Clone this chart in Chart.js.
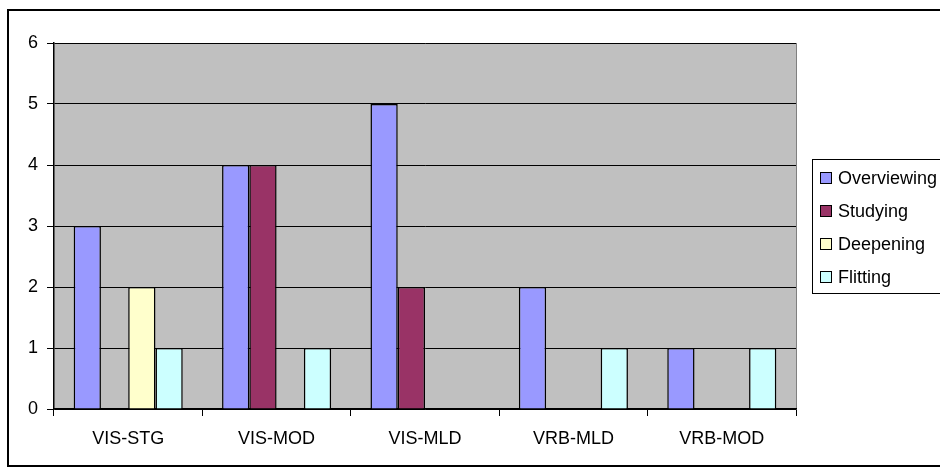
<!DOCTYPE html>
<html>
<head>
<meta charset="utf-8">
<script src="https://cdn.jsdelivr.net/npm/chart.js@4/dist/chart.umd.min.js"></script>
<style>
html,body{margin:0;padding:0;background:#fff;}
#wrap{width:940px;height:471px;position:relative;}
</style>
</head>
<body>
<div id="wrap"><canvas id="c" width="940" height="471"></canvas></div>
<script>
const categories = ['VIS-STG', 'VIS-MOD', 'VIS-MLD', 'VRB-MLD', 'VRB-MOD'];
const seriesNames = ['Overviewing', 'Studying', 'Deepening', 'Flitting'];
const overviewing = [3, 4, 5, 2, 1];
const studying = [0, 4, 2, 0, 0];
const deepening = [2, 0, 0, 0, 0];
const flitting = [1, 1, 0, 1, 1];
const yTicks = [0, 1, 2, 3, 4, 5, 6];

const colors = ['#9999FF', '#993366', '#FFFFCC', '#CCFFFF'];
const seriesValues = [overviewing, studying, deepening, flitting];

const FONT = '"Liberation Sans", Arial, sans-serif';

const bgPlugin = {
  id: 'bg',
  beforeDraw(chart) {
    const ctx = chart.ctx;
    const a = chart.chartArea;
    ctx.save();
    ctx.fillStyle = '#fff';
    ctx.fillRect(0, 0, chart.width, chart.height);
    ctx.fillStyle = '#C0C0C0';
    ctx.fillRect(a.left, a.top, a.right - a.left, a.bottom - a.top);
    ctx.strokeStyle = '#808080';
    ctx.lineWidth = 1;
    ctx.beginPath();
    ctx.moveTo(a.right + 0.5, a.top);
    ctx.lineTo(a.right + 0.5, a.bottom);
    ctx.stroke();
    ctx.restore();
  },
  afterDraw(chart) {
    const ctx = chart.ctx;
    ctx.save();
    // outer border
    ctx.strokeStyle = '#000';
    ctx.lineWidth = 2;
    ctx.strokeRect(8, 10, 940, 456);
    // legend
    const lx = 812.5, ly = 159.5, lw = 140, lh = 134;
    ctx.fillStyle = '#fff';
    ctx.fillRect(lx, ly, lw, lh);
    ctx.lineWidth = 1;
    ctx.strokeRect(lx, ly, lw, lh);
    ctx.font = '18px ' + FONT;
    ctx.textBaseline = 'middle';
    ctx.textAlign = 'left';
    chart.data.datasets.forEach((ds, i) => {
      const cy = 178 + i * 33;
      ctx.fillStyle = ds.backgroundColor;
      ctx.fillRect(820.5, cy - 5.5, 11, 11);
      ctx.strokeStyle = '#000';
      ctx.strokeRect(820.5, cy - 5.5, 11, 11);
      ctx.fillStyle = '#000';
      ctx.fillText(ds.label, 838, cy + 1);
    });
    ctx.restore();
  }
};

new Chart(document.getElementById('c'), {
  type: 'bar',
  data: {
    labels: categories,
    datasets: seriesNames.map((n, i) => ({
      label: n,
      data: seriesValues[i],
      backgroundColor: colors[i],
      borderColor: '#000',
      borderWidth: 1.5,
      borderSkipped: 'start',
      categoryPercentage: 0.735,
      barPercentage: 1.0
    }))
  },
  options: {
    responsive: false,
    animation: false,
    events: [],
    layout: { padding: { top: 43, right: 144, bottom: 0, left: 0 } },
    plugins: { legend: { display: false }, tooltip: { enabled: false } },
    scales: {
      x: {
        offset: true,
        grid: { offset: true, drawOnChartArea: false, color: '#000', tickLength: 7, lineWidth: 1 },
        border: { color: '#000', width: 1.5 },
        ticks: { color: '#000', font: { family: FONT, size: 18 }, padding: 12, maxRotation: 0 },
        afterFit(s) { s.height = 62; }
      },
      y: {
        min: 0, max: 6,
        afterBuildTicks(s) { s.ticks = yTicks.map(v => ({ value: v })); },
        grid: { color: '#000', tickLength: 7, lineWidth: 1 },
        border: { color: '#000', width: 1.5 },
        ticks: { color: '#000', font: { family: FONT, size: 18 }, padding: 9 },
        afterFit(s) { s.width = 54; }
      }
    }
  },
  plugins: [bgPlugin]
});
</script>
</body>
</html>
